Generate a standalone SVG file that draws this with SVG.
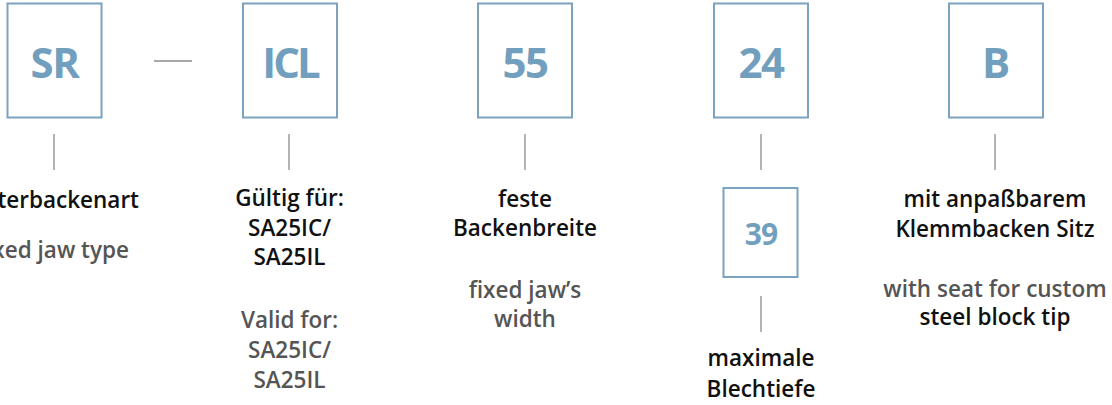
<svg xmlns="http://www.w3.org/2000/svg" width="1112" height="405" viewBox="0 0 1112 405">
<style>
.box{fill:#fff;stroke:#7ba2be;stroke-width:2}
.code{font-family:"Open Sans","Liberation Sans",sans-serif;font-weight:700;fill:#729fbd;text-anchor:middle}
.conn{stroke:#8a8a8a;stroke-width:1.3;fill:none}
.de{font-family:"Open Sans","Liberation Sans",sans-serif;font-weight:600;font-size:22.5px;fill:#111;text-anchor:middle}
.en{font-family:"Open Sans","Liberation Sans",sans-serif;font-weight:600;font-size:22.5px;fill:#555;text-anchor:middle}
</style>
<rect width="1112" height="405" fill="#fff"/>
<g id="connectors">
<line class="conn" x1="154" y1="61" x2="192" y2="61"/>
<line class="conn" x1="54" y1="134" x2="54" y2="170"/>
<line class="conn" x1="289" y1="134" x2="289" y2="170"/>
<line class="conn" x1="525" y1="134" x2="525" y2="170"/>
<line class="conn" x1="761" y1="134" x2="761" y2="170"/>
<line class="conn" x1="761" y1="296" x2="761" y2="332"/>
<line class="conn" x1="995" y1="134" x2="995" y2="170"/>
</g>
<g id="node-SR">
<rect class="box" x="7.5" y="3.5" width="94" height="114"/>
<text class="code" x="54.5" y="77.5" font-size="42" letter-spacing="-1.5">SR</text>
</g>
<g id="node-ICL">
<rect class="box" x="243" y="3.5" width="94" height="114"/>
<text class="code" x="290" y="77.5" font-size="42" letter-spacing="-3">ICL</text>
</g>
<g id="node-55">
<rect class="box" x="478" y="3.5" width="94" height="114"/>
<text class="code" x="525" y="77.5" font-size="42" letter-spacing="-1.5">55</text>
</g>
<g id="node-24">
<rect class="box" x="714" y="3.5" width="94" height="114"/>
<text class="code" x="761" y="77.5" font-size="42" letter-spacing="-1.5">24</text>
</g>
<g id="node-B">
<rect class="box" x="949" y="3.5" width="94" height="114"/>
<text class="code" x="996" y="77.5" font-size="42">B</text>
</g>
<g id="node-39">
<rect class="box" x="723.5" y="188" width="74" height="89"/>
<text class="code" x="761" y="245" font-size="30" letter-spacing="-1">39</text>
</g>
<g id="label-SR">
<text class="de" x="139" y="207.5" style="text-anchor:end">terbackenart</text>
<text class="en" x="129" y="258" style="text-anchor:end">xed jaw type</text>
</g>
<g id="label-ICL">
<text class="de" x="289.5" y="206">Gültig für:</text>
<text class="de" x="289.5" y="235.5">SA25IC/</text>
<text class="de" x="289.5" y="265">SA25IL</text>
<text class="en" x="289.5" y="328">Valid for:</text>
<text class="en" x="289.5" y="358">SA25IC/</text>
<text class="en" x="289.5" y="388">SA25IL</text>
</g>
<g id="label-55">
<text class="de" x="525" y="206.5">feste</text>
<text class="de" x="525" y="236">Backenbreite</text>
<text class="en" x="525" y="298">fixed jaw’s</text>
<text class="en" x="525" y="327">width</text>
</g>
<g id="label-24">
<text class="de" x="761" y="366">maximale</text>
<text class="de" x="761" y="396.5">Blechtiefe</text>
</g>
<g id="label-B">
<text class="de" x="995" y="207">mit anpaßbarem</text>
<text class="de" x="995" y="236.5">Klemmbacken Sitz</text>
<text class="en" x="995" y="296.5">with seat for custom</text>
<text class="de" x="995" y="325">steel block tip</text>
</g>
</svg>
